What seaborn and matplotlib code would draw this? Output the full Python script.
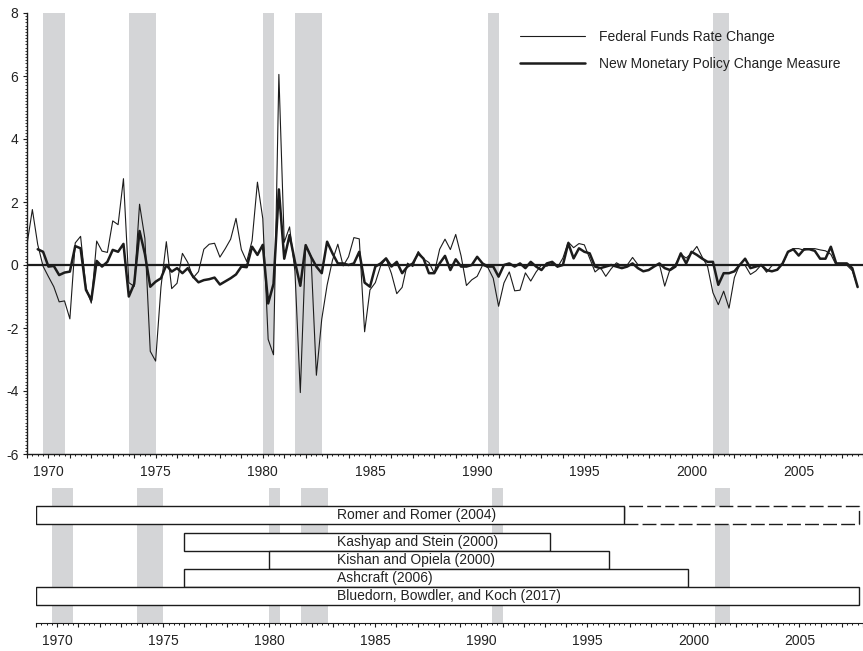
import numpy as np
import pandas as pd
import seaborn as sns
import matplotlib.pyplot as plt
from matplotlib.ticker import MultipleLocator, FuncFormatter

# quarterly series, 1969Q1 .. 2007Q4
ffr_change = [
    0.65, 1.76, 0.65, -0.04,
    -0.37, -0.69, -1.17, -1.14,
    -1.71, 0.70, 0.91, -0.72,
    -1.21, 0.76, 0.44, 0.40,
    1.40, 1.28, 2.74, -0.56,
    -0.68, 1.93, 0.84, -2.74,
    -3.05, -0.70, 0.74, -0.75,
    -0.58, 0.37, 0.08, -0.41,
    -0.21, 0.50, 0.66, 0.69,
    0.25, 0.52, 0.82, 1.48,
    0.49, 0.11, 0.77, 2.63,
    1.47, -2.36, -2.85, 6.05,
    0.72, 1.21, -0.20, -4.05,
    0.64, 0.28, -3.50, -1.72,
    -0.64, 0.15, 0.66, -0.03,
    0.26, 0.87, 0.83, -2.12,
    -0.79, -0.56, -0.02, 0.20,
    -0.27, -0.91, -0.71, 0.06,
    -0.05, 0.43, 0.19, 0.08,
    -0.26, 0.50, 0.82, 0.49,
    0.97, 0.29, -0.65, -0.47,
    -0.36, -0.01, -0.08, -0.42,
    -1.31, -0.57, -0.22, -0.82,
    -0.80, -0.25, -0.51, -0.22,
    0.00, -0.04, 0.06, -0.07,
    0.22, 0.73, 0.55, 0.68,
    0.64, 0.21, -0.22, -0.08,
    -0.36, -0.12, 0.07, -0.03,
    0.00, 0.24, 0.01, -0.02,
    0.01, -0.02, 0.03, -0.67,
    -0.13, 0.02, 0.34, 0.22,
    0.37, 0.59, 0.25, -0.05,
    -0.88, -1.26, -0.83, -1.37,
    -0.40, 0.02, -0.01, -0.30,
    -0.19, 0.00, -0.23, -0.02,
    0.00, 0.03, 0.40, 0.52,
    0.52, 0.47, 0.52, 0.52,
    0.48, 0.45, 0.34, -0.01,
    0.02, -0.01, -0.18, -0.70,
]

# new measure, 1969Q3 .. 2007Q4
new_measure = [
    0.50, 0.42,
    -0.05, -0.03, -0.32, -0.24,
    -0.21, 0.60, 0.53, -0.79,
    -1.11, 0.13, -0.05, 0.10,
    0.48, 0.42, 0.67, -1.00,
    -0.60, 1.08, 0.35, -0.69,
    -0.53, -0.42, 0.00, -0.21,
    -0.10, -0.26, -0.10, -0.37,
    -0.55, -0.48, -0.45, -0.40,
    -0.62, -0.52, -0.42, -0.30,
    -0.05, -0.07, 0.58, 0.32,
    0.64, -1.22, -0.60, 2.40,
    0.20, 0.95, 0.10, -0.66,
    0.63, 0.26, -0.05, -0.26,
    0.74, 0.37, 0.05, 0.05,
    0.00, 0.05, 0.42, -0.56,
    -0.69, -0.05, 0.05, 0.21,
    -0.05, 0.10, -0.26, -0.05,
    0.05, 0.37, 0.20, -0.26,
    -0.26, 0.05, 0.29, -0.16,
    0.18, -0.05, -0.05, 0.00,
    0.26, 0.05, -0.05, -0.05,
    -0.37, 0.00, 0.05, -0.05,
    0.05, -0.10, 0.10, -0.05,
    -0.16, 0.05, 0.10, -0.05,
    0.00, 0.69, 0.21, 0.53,
    0.42, 0.37, -0.05, -0.10,
    -0.05, 0.00, -0.05, -0.10,
    -0.05, 0.05, -0.10, -0.20,
    -0.16, -0.05, 0.05, -0.10,
    -0.16, -0.05, 0.37, 0.05,
    0.42, 0.32, 0.20, 0.10,
    0.10, -0.63, -0.26, -0.26,
    -0.20, 0.00, 0.20, -0.10,
    -0.05, 0.00, -0.16, -0.20,
    -0.15, 0.05, 0.42, 0.50,
    0.30, 0.50, 0.50, 0.45,
    0.20, 0.20, 0.58, 0.05,
    0.05, 0.05, -0.10, -0.70,
]

recession_start = [1969.75, 1973.75, 1980.0, 1981.5, 1990.5, 2001.0]
recession_end = [1970.75, 1975.0, 1980.5, 1982.75, 1991.0, 2001.75]

studies = ["Romer and Romer (2004)", "Kashyap and Stein (2000)",
           "Kishan and Opiela (2000)", "Ashcraft (2006)",
           "Bluedorn, Bowdler, and Koch (2017)"]
study_start = [1969.0, 1976.0, 1980.0, 1976.0, 1969.0]
study_end = [1996.75, 1993.25, 1996.0, 1999.75, 2007.8]
study_ext_end = 2007.8  # dashed extension of Romer and Romer

sns.set_style("ticks")
plt.rcParams["font.family"] = ["Liberation Sans", "DejaVu Sans"]
plt.rcParams["axes.unicode_minus"] = False

ink = "#1c1c1c"
shade = "#d4d5d7"

fig = plt.figure(figsize=(8.63, 6.51), dpi=100)
ax = fig.add_axes([27 / 863, 197 / 651, 836 / 863, 441 / 651])
ax2 = fig.add_axes([36 / 863, 28 / 651, 827 / 863, 135 / 651])

quarters_a = 1969 + np.arange(len(ffr_change)) / 4
quarters_b = 1969.5 + np.arange(len(new_measure)) / 4
df_a = pd.DataFrame({"date": quarters_a, "value": ffr_change})
df_b = pd.DataFrame({"date": quarters_b, "value": new_measure})

for a in (ax, ax2):
    for s, e in zip(recession_start, recession_end):
        a.axvspan(s, e, color=shade, lw=0, zorder=0)

sns.lineplot(data=df_a, x="date", y="value", ax=ax, color=ink, lw=0.8,
             label="Federal Funds Rate Change", zorder=3)
sns.lineplot(data=df_b, x="date", y="value", ax=ax, color=ink, lw=1.8,
             label="New Monetary Policy Change Measure", zorder=4)
ax.axhline(0, color=ink, lw=1.6, zorder=2)

ax.set_xlim(1969, 2008)
ax.set_ylim(-6, 8)
ax.set_xlabel("")
ax.set_ylabel("")
ax.yaxis.set_major_locator(MultipleLocator(2))
ax.yaxis.set_minor_locator(MultipleLocator(0.1))

year_fmt = FuncFormatter(lambda v, p: f"{int(round(v))}" if round(v) % 5 == 0 else "")
for a in (ax, ax2):
    a.xaxis.set_major_locator(MultipleLocator(1))
    a.xaxis.set_minor_locator(MultipleLocator(0.25))
    a.xaxis.set_major_formatter(year_fmt)
    a.tick_params(axis="x", which="major", length=3.2, width=0.8, color=ink,
                  labelsize=10, labelcolor="#222222", pad=5)
    a.tick_params(axis="x", which="minor", length=1.6, width=0.7, color=ink)
ax.tick_params(axis="y", which="major", length=3.2, width=0.8, color=ink,
               labelsize=10, labelcolor="#222222", pad=3)
ax.tick_params(axis="y", which="minor", length=1.6, width=0.6, color=ink)

sns.despine(ax=ax, top=True, right=True)
for sp in ax.spines.values():
    sp.set_color(ink)
    sp.set_linewidth(1.0)

ax.legend(loc="upper left", bbox_to_anchor=(0.5897, 0.962), frameon=False,
          fontsize=10, handlelength=4.7, handletextpad=1.0, labelspacing=0.95,
          borderpad=0, borderaxespad=0, labelcolor="#222222")

# coverage of the sample periods in earlier studies
rows = [6.0, 4.5, 3.5, 2.5, 1.5]
for name, y, s, e in zip(studies, rows, study_start, study_end):
    ax2.barh(y, e - s, left=s, height=1.0, color="white", edgecolor=ink,
             lw=1.0, zorder=3)
    ax2.text(1983.2, y, name, ha="left", va="center", fontsize=10,
             color="#222222", zorder=4)
ax2.barh(rows[0], study_ext_end - study_end[0], left=study_end[0], height=1.0,
         color="white", edgecolor=ink, lw=1.0, linestyle=(0, (10, 3)), zorder=2)

ax2.set_xlim(1969, 2008)
ax2.set_ylim(0, 7.5)
ax2.set_yticks([])
sns.despine(ax=ax2, left=True, top=True, right=True)
ax2.spines["bottom"].set_color(ink)

fig.savefig("out.png", dpi=100)
